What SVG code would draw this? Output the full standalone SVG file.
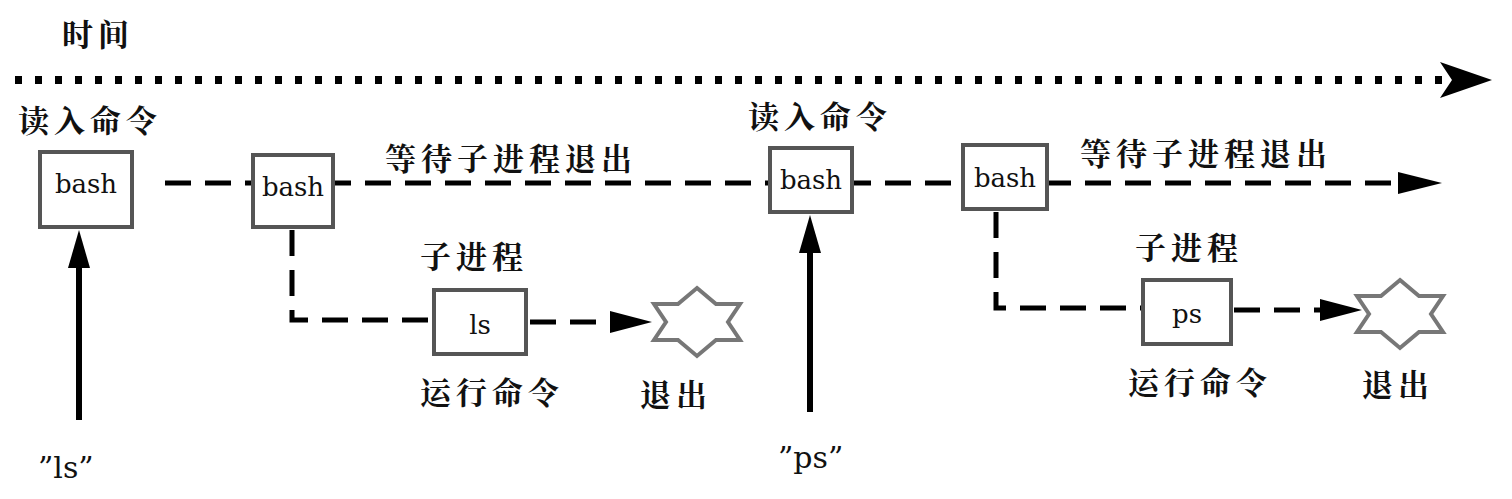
<svg xmlns="http://www.w3.org/2000/svg" width="1512" height="499" viewBox="0 0 1512 499">
<style>
.zh{font-family:"Noto Serif CJK SC","Noto Sans CJK SC",serif;font-size:31px;font-weight:bold;letter-spacing:5px;fill:#111}
.en{font-family:"DejaVu Serif","Liberation Serif",serif;font-size:26px;fill:#111}
.box{fill:#fff;stroke:#555;stroke-width:4}
.dash{fill:none;stroke:#000;stroke-width:5;stroke-dasharray:26,14}
.star{fill:#fff;stroke:#777;stroke-width:4}
</style>
<text class="zh" x="62" y="46">时间</text>
<g id="connectors">
<line x1="15" y1="80" x2="1445" y2="80" stroke="#000" stroke-width="8" stroke-dasharray="7,13"/>
<path d="M1440,62 L1492,80 L1440,98 L1452,80 Z" fill="#000"/>
<line class="dash" x1="165" y1="183" x2="1400" y2="183"/>
<path d="M1398,172 L1442,183 L1398,194 Z" fill="#000"/>
<path class="dash" d="M292,230 V320 H434"/>
<line class="dash" x1="530" y1="322" x2="612" y2="322"/>
<path d="M610,311 L652,322 L610,333 Z" fill="#000"/>
<path class="dash" d="M996,212 V308 H1143"/>
<line class="dash" x1="1234" y1="310" x2="1322" y2="310"/>
<path d="M1320,299 L1362,310 L1320,321 Z" fill="#000"/>
<line x1="79" y1="420" x2="79" y2="265" stroke="#000" stroke-width="6"/>
<path d="M68,268 L79,230 L90,268 Z" fill="#000"/>
<line x1="810" y1="412" x2="810" y2="250" stroke="#000" stroke-width="6"/>
<path d="M799,253 L810,215 L821,253 Z" fill="#000"/>
</g>
<g id="read1"><text class="zh" x="18" y="132">读入命令</text></g>
<g id="bash1"><rect class="box" x="40" y="152" width="92" height="75"/><text class="en" x="86" y="193" text-anchor="middle">bash</text></g>
<g id="bash2"><rect class="box" x="253" y="155" width="80" height="72"/><text class="en" x="293" y="196" text-anchor="middle">bash</text></g>
<g id="wait1"><text class="zh" x="385" y="170">等待子进程退出</text></g>
<g id="child1"><text class="zh" x="420" y="268">子进程</text></g>
<g id="ls"><rect class="box" x="434" y="290" width="92" height="64"/><text class="en" x="480" y="334" text-anchor="middle">ls</text></g>
<g id="run1"><text class="zh" x="420" y="404">运行命令</text></g>
<g id="star1"><path class="star" d="M697,288 L716,304 L740,304 L728,322 L740,340 L716,340 L697,356 L678,340 L654,340 L666,322 L654,304 L678,304 Z"/></g>
<g id="exit1"><text class="zh" x="640" y="406">退出</text></g>
<g id="cmd1"><text class="en" x="38" y="478" style="font-size:30px">”ls”</text></g>
<g id="read2"><text class="zh" x="748" y="128">读入命令</text></g>
<g id="bash3"><rect class="box" x="770" y="148" width="82" height="64"/><text class="en" x="811" y="189" text-anchor="middle">bash</text></g>
<g id="bash4"><rect class="box" x="963" y="145" width="84" height="64"/><text class="en" x="1005" y="187" text-anchor="middle">bash</text></g>
<g id="wait2"><text class="zh" x="1080" y="165">等待子进程退出</text></g>
<g id="child2"><text class="zh" x="1135" y="259">子进程</text></g>
<g id="ps"><rect class="box" x="1143" y="280" width="88" height="64"/><text class="en" x="1187" y="323" text-anchor="middle">ps</text></g>
<g id="run2"><text class="zh" x="1128" y="394">运行命令</text></g>
<g id="star2"><path class="star" d="M1400,280 L1419,296 L1443,296 L1431,314 L1443,332 L1419,332 L1400,348 L1381,332 L1357,332 L1369,314 L1357,296 L1381,296 Z"/></g>
<g id="exit2"><text class="zh" x="1362" y="396">退出</text></g>
<g id="cmd2"><text class="en" x="778" y="468" style="font-size:30px">”ps”</text></g>
</svg>
